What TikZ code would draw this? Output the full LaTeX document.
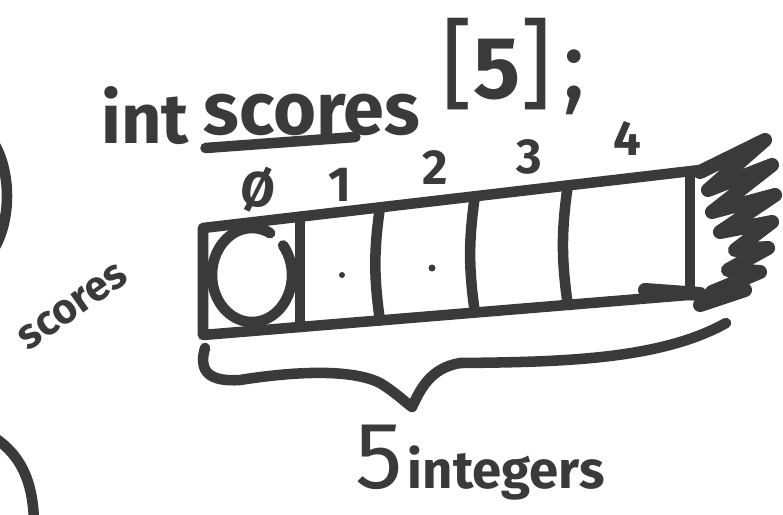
\documentclass[tikz,border=0pt]{standalone}
\usepackage{fontspec}
\setmainfont{Fira Sans}
\usetikzlibrary{calc}
\definecolor{ink}{RGB}{58,58,58}

\tikzset{
    marker/.style={draw=ink, line width=6pt, line cap=round, line join=round},
    handtext/.style={text=ink, inner sep=0pt},
    idxlabel/.style={handtext, font=\fontsize{28}{28}\selectfont\bfseries}
}

\begin{document}
\begin{tikzpicture}[x=0.02cm, y=0.02cm]
    \useasboundingbox (0,0) rectangle (783,-514);
    \clip (0,0) rectangle (783,-514);

    % declaration
    \node[handtext, font=\fontsize{40}{40}\selectfont\bfseries, anchor=base] (intkw) at (145,-143) {int};
    \node[handtext, font=\fontsize{42}{42}\selectfont\bfseries, anchor=base] (scoresvar) at (312,-134) {scores};
    \node[handtext, font=\fontsize{56}{56}\selectfont, anchor=base] (sizebr) at (514,-98)
        {[{\fontsize{50}{50}\selectfont\bfseries 5}]\kern6pt;};
    \draw[marker] ($(scoresvar.base west)+(2,-14)$) -- ($(scoresvar.base west)!0.7!(scoresvar.base east)+(0,-3)$);

    % array outline
    \coordinate (tl) at (203,-228);
    \coordinate (tr) at (700,-170);
    \coordinate (bl) at (203,-335);
    \coordinate (br) at (700,-294);
    \draw[marker] (tr) -- (tl) -- (bl) -- (br);
    \foreach \t/\n/\b in {0.195/1/0, 0.356/2/8, 0.547/3/8, 0.734/4/8, 0.98/5/0} {
        \coordinate (t\n) at ($(tl)!\t!(tr)$);
        \coordinate (b\n) at ($(bl)!\t!(br)$);
        \draw[marker] (t\n) to[bend right=\b] (b\n);
    }

    % indices
    \node[idxlabel, rotate=-10] (idx0) at (258,-190) {Ø};
    \node[idxlabel] (idx1) at (340,-185) {1};
    \node[idxlabel] (idx2) at (435,-168) {2};
    \node[idxlabel] (idx3) at (529,-157) {3};
    \node[idxlabel] (idx4) at (627,-138) {4};

    % first element and marks
    \draw[marker] (252,-275) ++(63:40 and 47) arc[start angle=63, end angle=399, x radius=40, y radius=47];
    \fill[ink] (342,-275) circle (3);
    \fill[ink] (432,-268) circle (3.5);

    % scribbled end
    \draw[marker, line width=8pt] (700,-172) -- (765,-140) -- (708,-190) -- (772,-165) -- (712,-212)
        -- (775,-195) -- (720,-232) -- (772,-222) -- (735,-250) -- (768,-248) -- (728,-270)
        -- (760,-272) -- (712,-292) -- (745,-290) -- (700,-305);
    \draw[marker, line width=8pt] (645,-290) -- (br);

    % side label
    \node[handtext, font=\fontsize{24}{24}\selectfont\bfseries, rotate=35] (sidelabel) at (73,-307) {scores};

    % brace
    \coordinate (braceL) at (205,-348);
    \coordinate (braceTip) at (412,-407);
    \coordinate (braceR) at (726,-323);
    \draw[marker] (braceL) .. controls (198,-372) and (210,-382) .. (240,-380)
        .. controls (290,-372) and (350,-368) .. (380,-383)
        .. controls (395,-392) and (405,-402) .. (braceTip)
        .. controls (420,-390) and (430,-368) .. (460,-363)
        .. controls (560,-362) and (660,-360) .. (braceR);

    % count
    \node[handtext, anchor=base] (countlabel) at (480,-488)
        {{\fontsize{54}{54}\selectfont 5} {\fontsize{30}{30}\selectfont\bfseries integers}};

    % edge of neighbouring sketches
    \draw[marker] (-8,-140) .. controls (12,-170) and (12,-222) .. (-8,-252);
    \draw[marker] (-5,-438) .. controls (20,-455) and (33,-480) .. (34,-522);
\end{tikzpicture}
\end{document}
